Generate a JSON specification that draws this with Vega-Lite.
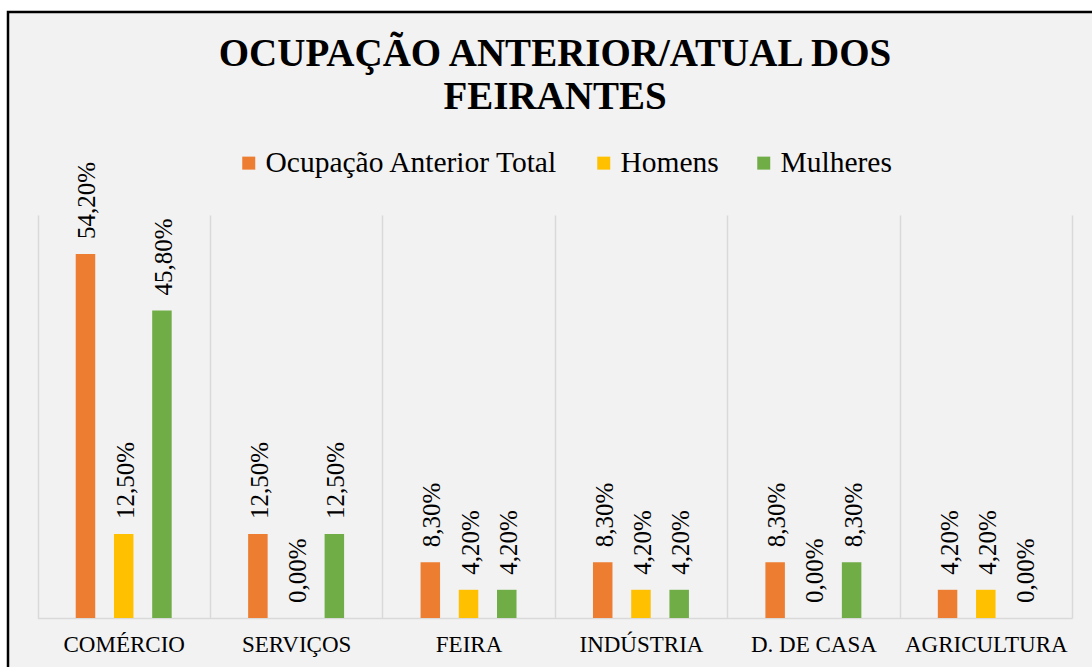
{
  "$schema": "https://vega.github.io/schema/vega-lite/v6.json",
  "width": 1094,
  "height": 809,
  "autosize": {"type": "none"},
  "padding": {"left": 8, "top": 12, "right": -10, "bottom": -154},
  "background": "#ffffff",
  "config": {
    "view": {"fill": "#f2f2f2", "stroke": "#000000", "strokeWidth": 2.5},
    "font": "Liberation Serif",
    "locale": {"number": {"decimal": ",", "thousands": ".", "grouping": [3], "currency": ["R$", ""]}}
  },
  "title": {
    "text": ["OCUPAÇÃO ANTERIOR/ATUAL DOS", "FEIRANTES"],
    "font": "Liberation Serif",
    "fontSize": 39,
    "fontWeight": "bold",
    "color": "#000000",
    "anchor": "middle",
    "frame": "group",
    "offset": -105,
    "lineHeight": 43
  },
  "data": {
    "values": [
      {"cat": "COMÉRCIO", "serie": "Ocupação Anterior Total", "valor": 0.542},
      {"cat": "COMÉRCIO", "serie": "Homens", "valor": 0.125},
      {"cat": "COMÉRCIO", "serie": "Mulheres", "valor": 0.458},
      {"cat": "SERVIÇOS", "serie": "Ocupação Anterior Total", "valor": 0.125},
      {"cat": "SERVIÇOS", "serie": "Homens", "valor": 0.0},
      {"cat": "SERVIÇOS", "serie": "Mulheres", "valor": 0.125},
      {"cat": "FEIRA", "serie": "Ocupação Anterior Total", "valor": 0.083},
      {"cat": "FEIRA", "serie": "Homens", "valor": 0.042},
      {"cat": "FEIRA", "serie": "Mulheres", "valor": 0.042},
      {"cat": "INDÚSTRIA", "serie": "Ocupação Anterior Total", "valor": 0.083},
      {"cat": "INDÚSTRIA", "serie": "Homens", "valor": 0.042},
      {"cat": "INDÚSTRIA", "serie": "Mulheres", "valor": 0.042},
      {"cat": "D. DE CASA", "serie": "Ocupação Anterior Total", "valor": 0.083},
      {"cat": "D. DE CASA", "serie": "Homens", "valor": 0.0},
      {"cat": "D. DE CASA", "serie": "Mulheres", "valor": 0.083},
      {"cat": "AGRICULTURA", "serie": "Ocupação Anterior Total", "valor": 0.042},
      {"cat": "AGRICULTURA", "serie": "Homens", "valor": 0.042},
      {"cat": "AGRICULTURA", "serie": "Mulheres", "valor": 0.0}
    ]
  },
  "encoding": {
    "x": {
      "field": "cat",
      "type": "nominal",
      "sort": ["COMÉRCIO", "SERVIÇOS", "FEIRA", "INDÚSTRIA", "D. DE CASA", "AGRICULTURA"],
      "scale": {"range": [29.5, 1064], "paddingInner": 0, "paddingOuter": 0},
      "axis": {
        "title": null,
        "labelAngle": 0,
        "labelFont": "Liberation Serif",
        "labelFontSize": 23,
        "labelColor": "#000000",
        "labelPadding": 15,
        "labelLimit": 0,
        "ticks": false,
        "domainColor": "#d9d9d9",
        "domainWidth": 1.5,
        "grid": true,
        "gridColor": "#d9d9d9",
        "gridWidth": 1.5,
        "tickBand": "extent",
        "offset": -203
      }
    },
    "xOffset": {
      "field": "serie",
      "type": "nominal",
      "sort": ["Ocupação Anterior Total", "Homens", "Mulheres"],
      "scale": {"paddingInner": 0.49, "paddingOuter": 1.17}
    },
    "y": {
      "field": "valor",
      "type": "quantitative",
      "scale": {"domain": [0, 0.6], "range": [606, 203]},
      "axis": null
    }
  },
  "layer": [
    {
      "mark": {"type": "bar"},
      "encoding": {
        "color": {
          "field": "serie",
          "type": "nominal",
          "sort": ["Ocupação Anterior Total", "Homens", "Mulheres"],
          "scale": {
            "domain": ["Ocupação Anterior Total", "Homens", "Mulheres"],
            "range": ["#ed7d31", "#ffc000", "#70ad47"]
          },
          "legend": {
            "orient": "none",
            "legendX": 226,
            "legendY": 136,
            "direction": "horizontal",
            "title": null,
            "symbolType": "square",
            "symbolSize": 169,
            "symbolStrokeWidth": 0,
            "labelFont": "Liberation Serif",
            "labelFontSize": 29.5,
            "labelColor": "#000000",
            "labelOffset": 2,
            "columnPadding": 30,
            "labelLimit": 0
          }
        }
      }
    },
    {
      "mark": {
        "type": "text",
        "angle": 270,
        "align": "left",
        "baseline": "middle",
        "dx": 15,
        "dy": 2,
        "fontSize": 25,
        "font": "Liberation Serif",
        "color": "#000000"
      },
      "encoding": {
        "text": {"field": "valor", "type": "quantitative", "format": ".2%"}
      }
    }
  ]
}
